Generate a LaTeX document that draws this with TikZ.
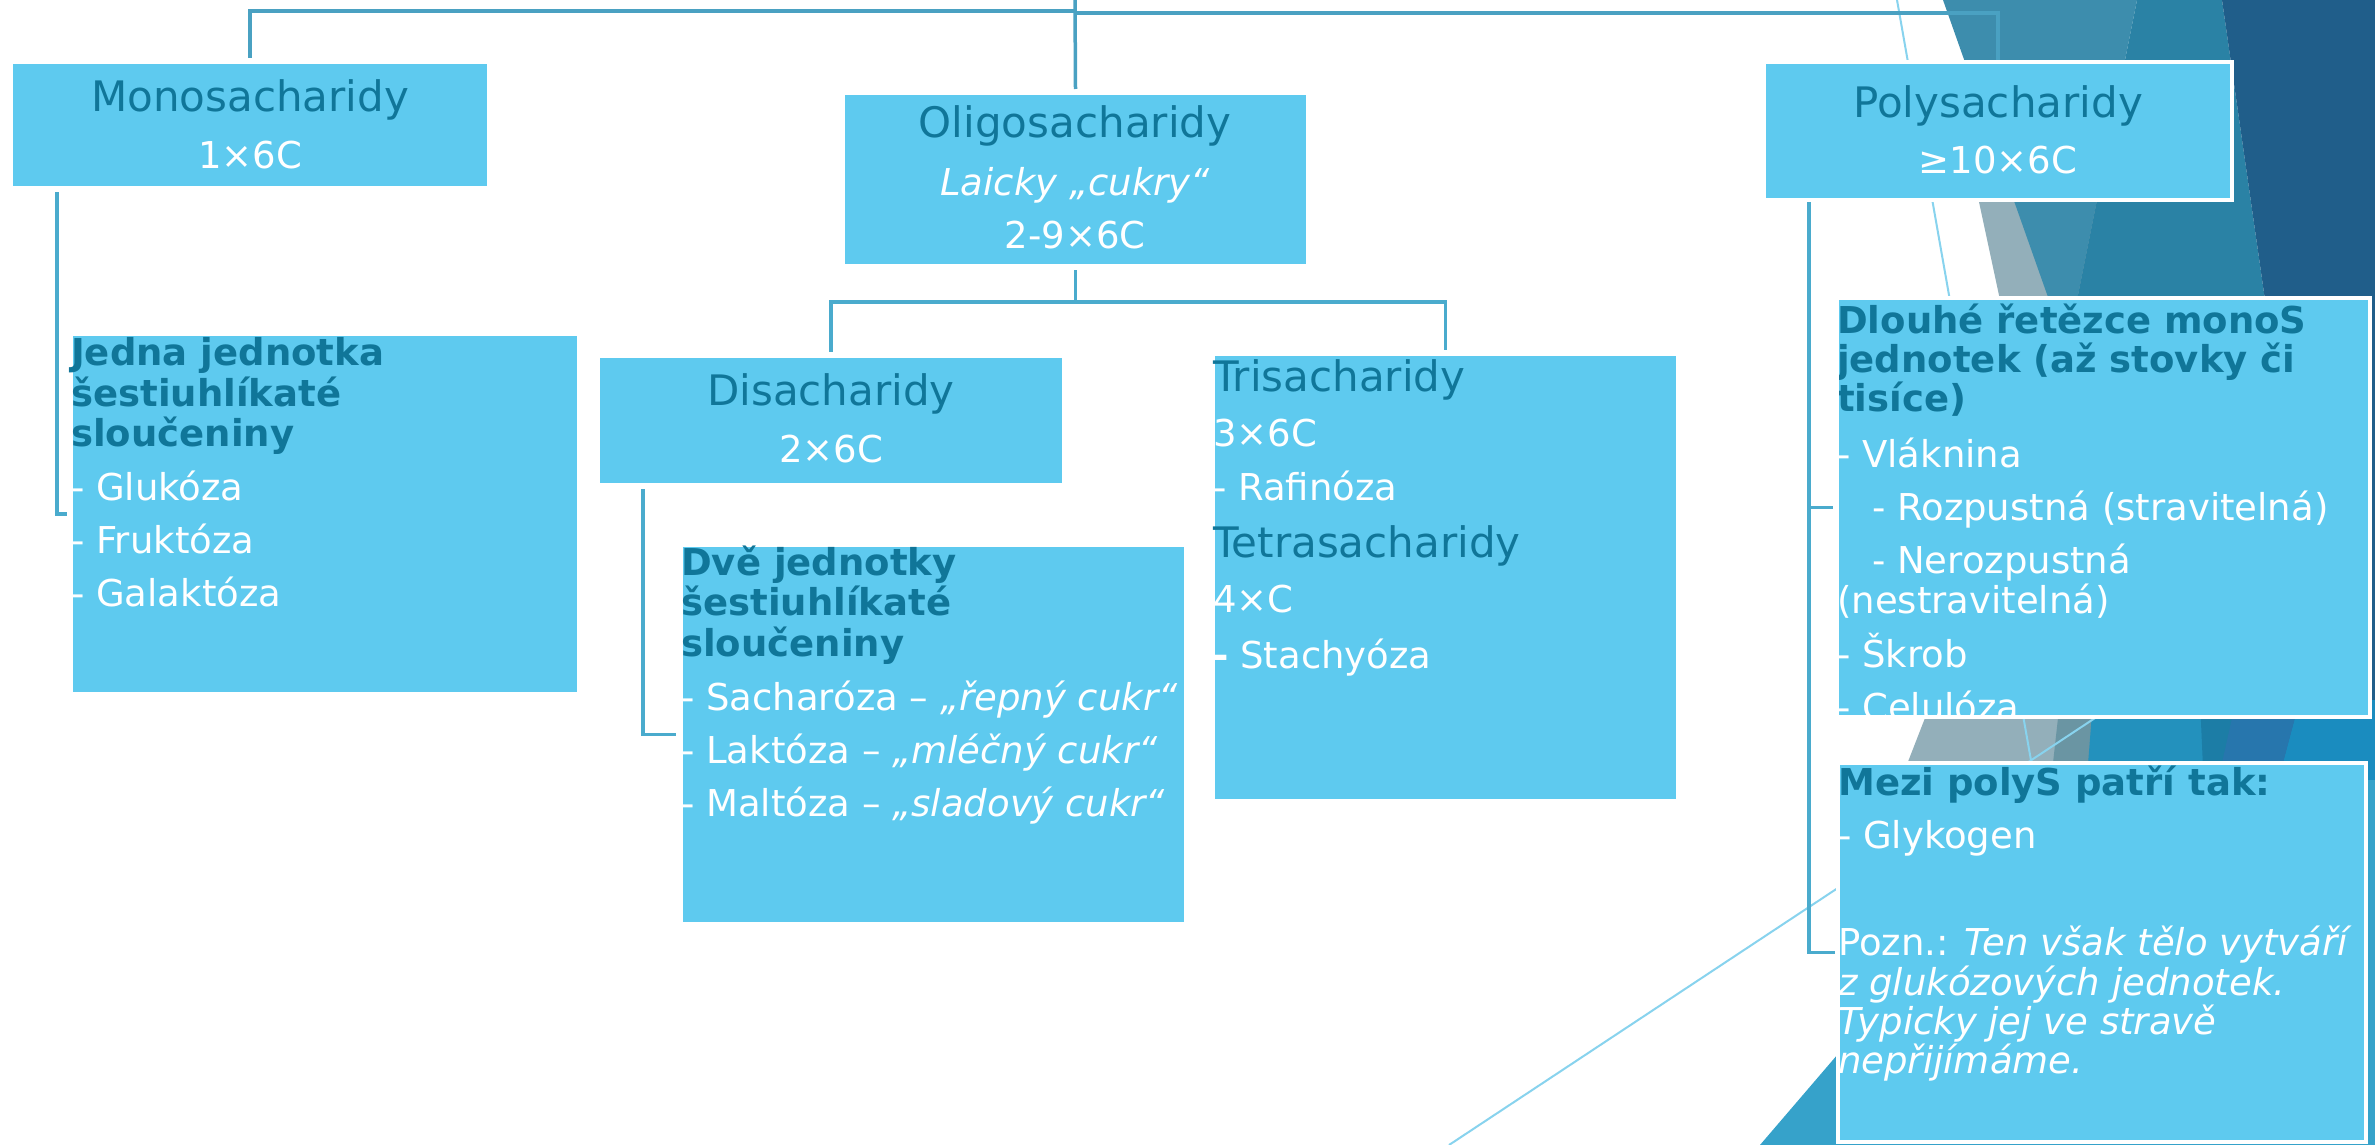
\documentclass[tikz,border=0pt]{standalone}
\usepackage{fontspec}
\setmainfont{DejaVu Sans}
\usetikzlibrary{calc}
\definecolor{boxfill}{HTML}{5ECAEF}
\definecolor{titlec}{HTML}{107699}
\definecolor{connc}{HTML}{4AABCD}
\definecolor{conntop}{HTML}{4AA1C2}
\definecolor{thinc}{HTML}{88D3EE}
\definecolor{bggray}{HTML}{93AFBA}
\definecolor{bgdgray}{HTML}{6A95A3}
\definecolor{bglteal}{HTML}{3D8DAD}
\definecolor{bgmteal}{HTML}{2A82A5}
\definecolor{bgnavy}{HTML}{205E8A}
\definecolor{bgteal}{HTML}{2391BD}
\definecolor{bgdteal}{HTML}{1C7DA6}
\definecolor{bgblue}{HTML}{2776AD}
\definecolor{bgbright}{HTML}{1A8CBF}
\definecolor{bgbot}{HTML}{36A2CA}
\begin{document}
\begin{tikzpicture}[x=1pt,y=-1pt,
  box/.style={fill=boxfill, draw=white, line width=4pt, anchor=north west, inner sep=0pt, outer sep=0pt},
  conn/.style={draw=connc, line width=3.5pt},
  conntopst/.style={draw=conntop, line width=3.5pt},
  ttl/.style={text=titlec, font=\fontsize{42}{48}\selectfont, anchor=base, inner sep=0pt},
  ttlw/.style={text=titlec, font=\fontsize{42}{48}\selectfont, anchor=base west, inner sep=0pt},
  subc/.style={text=white, font=\fontsize{37}{44}\selectfont, anchor=base, inner sep=0pt},
  itm/.style={text=white, font=\fontsize{37}{44}\selectfont, anchor=base west, inner sep=0pt},
  hd/.style={text=titlec, font=\fontsize{37}{44}\selectfont\bfseries, anchor=base west, inner sep=0pt},
  thin/.style={draw=thinc, line width=2pt}
]
\useasboundingbox (0,0) rectangle (2375,1145);
\fill[white] (0,0) rectangle (2375,1145);

% background decoration
\fill[bgbright] (2080,690) rectangle (2375,800);
\fill[bggray] (1955,90) -- (2000,300) -- (1925,718) -- (1897,790) -- (2100,790) -- (2100,90) -- cycle;
\fill[bgdgray] (2060,700) -- (2100,700) -- (2095,790) -- (2050,790) -- cycle;
\fill[bglteal] (1943,0) -- (2137,0) -- (2077,300) -- (2049,300) -- cycle;
\fill[bgmteal] (2137,0) -- (2222,0) -- (2265,300) -- (2270,700) -- (2093,700) -- (2077,300) -- cycle;
\fill[bgnavy] (2222,0) -- (2375,0) -- (2375,700) -- (2300,700) -- (2265,300) -- cycle;
\fill[bgteal] (2093,700) -- (2212,700) -- (2204,790) -- (2086,790) -- cycle;
\fill[bgdteal] (2200,700) -- (2238,700) -- (2216,790) -- (2204,790) -- cycle;
\fill[bgblue] (2236,700) -- (2300,700) -- (2276,790) -- (2216,790) -- cycle;
\fill[bgbright] (2300,700) -- (2375,700) -- (2375,1145) -- (2276,1145) -- (2276,790) -- cycle;
\fill[bgbot] (1760,1145) -- (1850,1040) -- (2300,780) -- (2375,780) -- (2375,1145) -- cycle;

% thin decorative lines
\draw[thin] (1897,0) -- (2045,840);
\draw[thin] (1449,1145) -- (2210,642);

% boxes
\node[box, minimum width=478, minimum height=126] (mono) at (11,62) {};
\node[box, minimum width=465, minimum height=173] (oligo) at (843,93) {};
\node[box, minimum width=468, minimum height=138] (poly) at (1764,62) {};
\node[box, minimum width=508, minimum height=360] (jedna) at (71,334) {};
\node[box, minimum width=466, minimum height=129] (di) at (598,356) {};
\node[box, minimum width=465, minimum height=447] (tri) at (1213,354) {};
\node[box, minimum width=505, minimum height=379] (dve) at (681,545) {};
\node[box, minimum width=533, minimum height=419] (dlouhe) at (1837,298) {};
\node[box, minimum width=528, minimum height=379] (mezi) at (1838,763) {};

% connectors
\coordinate (root) at (1075,0);
\coordinate (hub) at (1075,11);
\coordinate (hubR) at (1075,13);
\draw[conntopst] (root) -- ([yshift=4pt]oligo.north);
\draw[conntopst] ([yshift=4pt]mono.north) -- (mono.north |- hub) -- (hub);
\draw[conntopst] (hubR) -- (poly.north |- hubR) -- ([yshift=2pt]poly.north);
\draw[conn] ($(mono.south west)+(46,4)$) |- ($(jedna.west)+(-4,0)$);
\draw[conn] ([yshift=-4pt]oligo.south) -- ++(0,32) coordinate (ohub);
\draw[conn] (ohub) -| ([yshift=4pt]di.north);
\draw[conn] (ohub) -| ([yshift=4pt]tri.north);
\draw[conn] ($(di.south west)+(45,4)$) |- ($(dve.west)+(-5,0)$);
\coordinate (pv) at ($(poly.south west)+(45,2)$);
\draw[conn] (pv) |- ($(mezi.west)+(-3,0)$);
\draw[conn] (pv |- dlouhe.west) -- ($(dlouhe.west)+(-4,0)$);

% texts: Monosacharidy
\node[ttl] (monoT) at (250,112) {Monosacharidy};
\node[subc] (monoS) at (250,168) {1×6C};
% Oligosacharidy
\node[ttl] (oligoT) at (1075,138) {Oligosacharidy};
\node[subc] (oligoL) at (1075,195) {\itshape Laicky „cukry“};
\node[subc] (oligoS) at (1075,248) {2-9×6C};
% Polysacharidy
\node[ttl] (polyT) at (1998,118) {Polysacharidy};
\node[subc] (polyS) at (1998,173) {≥10×6C};
% Disacharidy
\node[ttl] (diT) at (831,405) {Disacharidy};
\node[subc] (diS) at (831,462) {2×6C};
% Jedna
\node[hd] (j1) at (71,365) {Jedna jednotka};
\node[hd] (j2) at (71,406) {šestiuhlíkaté};
\node[hd] (j3) at (71,446) {sloučeniny};
\node[itm] (j4) at (71,500) {- Glukóza};
\node[itm] (j5) at (71,553) {- Fruktóza};
\node[itm] (j6) at (71,606) {- Galaktóza};
% Dve
\node[hd] (d1) at (681,575) {Dvě jednotky};
\node[hd] (d2) at (681,615) {šestiuhlíkaté};
\node[hd] (d3) at (681,656) {sloučeniny};
\node[itm] (d4) at (681,710) {- Sacharóza – \textit{„řepný cukr“}};
\node[itm] (d5) at (681,763) {- Laktóza – \textit{„mléčný cukr“}};
\node[itm] (d6) at (681,816) {- Maltóza – \textit{„sladový cukr“}};
% Tri
\node[ttlw] (t1) at (1213,391) {Trisacharidy};
\node[itm] (t2) at (1213,446) {3×6C};
\node[itm] (t3) at (1213,500) {- Rafinóza};
\node[ttlw] (t4) at (1213,557) {Tetrasacharidy};
\node[itm] (t5) at (1213,612) {4×C};
\node[itm] (t6) at (1213,668) {{\bfseries -} Stachyóza};
% Dlouhe
\begin{scope}
\clip ($(dlouhe.north west)+(2,2)$) rectangle ($(dlouhe.south east)+(-2,-2)$);
\node[hd] (l1) at (1837,333) {Dlouhé řetězce monoS};
\node[hd] (l2) at (1837,372) {jednotek (až stovky či};
\node[hd] (l3) at (1837,411) {tisíce)};
\node[itm] (l4) at (1837,467) {- Vláknina};
\node[itm] (l5) at (1837,520) {\hspace*{35pt}- Rozpustná (stravitelná)};
\node[itm] (l6) at (1837,573) {\hspace*{35pt}- Nerozpustná};
\node[itm] (l7) at (1837,613) {(nestravitelná)};
\node[itm] (l8) at (1837,667) {- Škrob};
\node[itm] (l9) at (1837,720) {- Celulóza};
\end{scope}
% Mezi
\node[hd] (m1) at (1838,795) {Mezi polyS patří tak:};
\node[itm] (m2) at (1838,848) {- Glykogen};
\node[itm] (m3) at (1838,955) {Pozn.: \textit{Ten však tělo vytváří}};
\node[itm] (m4) at (1838,995) {\itshape z glukózových jednotek.};
\node[itm] (m5) at (1838,1034) {\itshape Typicky jej ve stravě};
\node[itm] (m6) at (1838,1073) {\itshape nepřijímáme.};
\end{tikzpicture}
\end{document}
